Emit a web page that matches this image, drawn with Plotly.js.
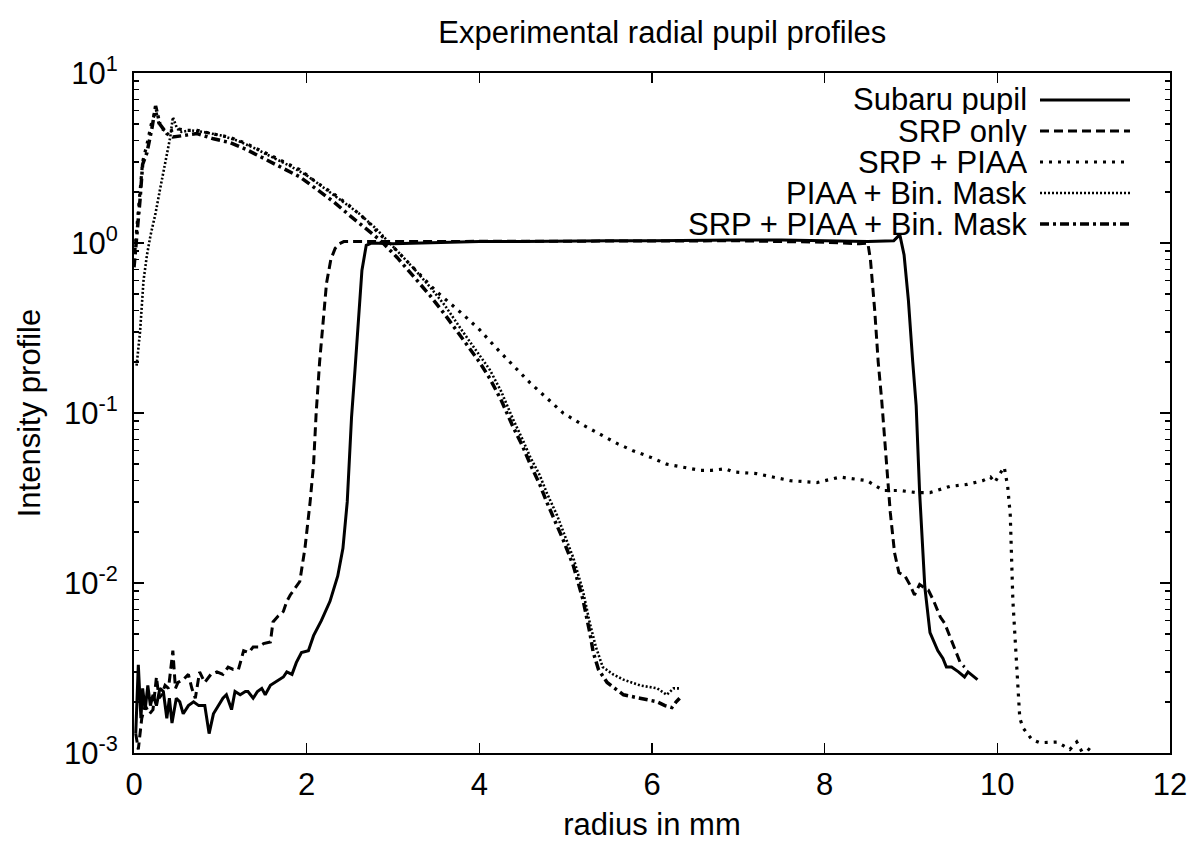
<!DOCTYPE html>
<html>
<head>
<meta charset="utf-8">
<script src="https://cdn.plot.ly/plotly-3.0.1.min.js"></script>
<style>html,body{margin:0;padding:0;background:#fff}#chart{width:1196px;height:846px}</style>
</head>
<body>
<div id="chart"></div>
<script>
// ---- Data ----
const seriesNames = ["Subaru pupil", "SRP only", "SRP + PIAA", "PIAA + Bin. Mask", "SRP + PIAA + Bin. Mask"];

const subaruX = [0.02,0.05,0.08,0.1,0.13,0.16,0.19,0.22,0.26,0.3,0.34,0.38,0.41,0.44,0.49,0.53,0.57,0.63,0.69,0.75,0.82,0.87,0.92,0.98,1.03,1.07,1.13,1.17,1.23,1.29,1.32,1.38,1.43,1.48,1.52,1.58,1.63,1.69,1.73,1.77,1.83,1.88,1.94,2.02,2.08,2.17,2.27,2.36,2.42,2.47,2.52,2.56,2.6,2.64,2.69,2.75,3.0,3.5,4.0,4.5,5.0,5.5,6.0,6.5,7.0,7.5,8.0,8.5,8.8,8.87,8.92,8.97,9.02,9.06,9.1,9.16,9.22,9.27,9.31,9.37,9.41,9.47,9.51,9.55,9.62,9.66,9.77];
const subaruY = [0.0013,0.0033,0.0016,0.0024,0.0018,0.0025,0.0019,0.0022,0.0019,0.0024,0.0023,0.0016,0.0021,0.0015,0.0021,0.0020,0.0017,0.0019,0.0020,0.0019,0.0019,0.0013,0.0017,0.0019,0.0021,0.0022,0.0018,0.0023,0.0022,0.0023,0.0023,0.0021,0.0023,0.0024,0.0022,0.0025,0.0026,0.0027,0.0028,0.0030,0.0029,0.0034,0.0039,0.0040,0.0049,0.006,0.0078,0.011,0.016,0.03,0.095,0.18,0.35,0.69,0.97,1.0,0.99,1.01,1.02,1.02,1.03,1.03,1.03,1.04,1.04,1.04,1.03,1.02,1.03,1.12,0.85,0.46,0.2,0.11,0.034,0.0095,0.0051,0.0044,0.0040,0.0036,0.0032,0.0032,0.0031,0.0030,0.0028,0.0030,0.0027];

const srpX = [0.02,0.05,0.09,0.13,0.18,0.22,0.26,0.29,0.32,0.36,0.4,0.45,0.48,0.51,0.57,0.63,0.67,0.71,0.76,0.82,0.89,0.96,1.03,1.09,1.15,1.21,1.27,1.33,1.38,1.44,1.5,1.58,1.61,1.67,1.73,1.77,1.81,1.86,1.92,1.98,2.04,2.08,2.11,2.15,2.19,2.23,2.28,2.33,2.38,2.43,3.0,4.0,5.0,6.0,7.0,8.0,8.4,8.5,8.53,8.58,8.62,8.66,8.7,8.76,8.81,8.86,8.93,8.99,9.04,9.07,9.1,9.15,9.2,9.26,9.34,9.39,9.47,9.57,9.62];
const srpY = [0.0013,0.00105,0.0016,0.0019,0.0017,0.0018,0.0028,0.0021,0.0022,0.0025,0.0024,0.0040,0.0024,0.0026,0.0027,0.0029,0.0024,0.0021,0.0030,0.0026,0.0029,0.0030,0.0029,0.0032,0.0031,0.0031,0.0040,0.0039,0.0042,0.0042,0.0044,0.0045,0.0059,0.0064,0.0068,0.0078,0.0085,0.0093,0.0102,0.016,0.03,0.05,0.1,0.2,0.36,0.58,0.8,0.93,0.99,1.02,1.02,1.02,1.03,1.03,1.03,1.01,0.99,1.0,0.8,0.4,0.2,0.12,0.066,0.026,0.015,0.0115,0.011,0.0097,0.0085,0.0091,0.0098,0.0094,0.0091,0.0079,0.0063,0.0058,0.0046,0.0034,0.0032];

const srpPiaaX = [0.01,0.05,0.1,0.15,0.2,0.25,0.3,0.38,0.45,0.5,0.6,0.73,0.9,1.1,1.3,1.54,1.75,1.92,2.1,2.31,2.5,2.7,2.85,3.0,3.23,3.5,3.81,4.0,4.2,4.4,4.59,4.8,4.97,5.2,5.4,5.6,5.78,5.98,6.17,6.36,6.56,6.69,6.85,6.94,7.21,7.4,7.6,7.91,8.18,8.49,8.68,8.87,9.07,9.22,9.45,9.65,9.83,9.92,9.97,10.03,10.08,10.12,10.15,10.18,10.22,10.26,10.3,10.4,10.49,10.6,10.69,10.77,10.84,10.92,10.97,11.03,11.11];
const srpPiaaY = [0.9,1.5,3.0,3.8,5.0,6.0,4.8,4.5,4.6,4.7,4.6,4.6,4.4,4.2,3.85,3.35,2.95,2.7,2.3,1.95,1.65,1.35,1.12,0.95,0.72,0.52,0.38,0.31,0.24,0.19,0.15,0.12,0.1,0.085,0.075,0.066,0.06,0.055,0.05,0.048,0.046,0.046,0.047,0.045,0.044,0.042,0.040,0.039,0.042,0.040,0.035,0.035,0.034,0.034,0.037,0.038,0.040,0.042,0.039,0.044,0.048,0.037,0.025,0.0079,0.0032,0.0016,0.0014,0.0012,0.00115,0.00115,0.00116,0.0011,0.00105,0.00116,0.00104,0.00108,0.0010];

const piaaMaskX = [0.03,0.07,0.11,0.15,0.19,0.25,0.3,0.34,0.38,0.42,0.45,0.5,0.55,0.65,0.8,1.0,1.2,1.4,1.6,1.8,2.0,2.2,2.4,2.6,2.8,2.9,3.05,3.25,3.43,3.6,3.81,4.0,4.12,4.25,4.39,4.5,4.59,4.7,4.78,4.9,4.97,5.09,5.2,5.28,5.35,5.43,5.55,5.67,5.86,6.06,6.17,6.25,6.32];
const piaaMaskY = [0.19,0.3,0.6,0.85,1.1,1.5,2.05,2.6,3.4,4.2,5.5,4.7,4.5,4.6,4.5,4.3,4.0,3.6,3.2,2.85,2.5,2.1,1.78,1.5,1.22,1.08,0.9,0.7,0.55,0.43,0.3,0.22,0.18,0.135,0.092,0.07,0.055,0.043,0.034,0.025,0.02,0.014,0.009,0.0058,0.0042,0.0032,0.0029,0.0027,0.0025,0.0024,0.0022,0.0024,0.0024];

const srpPiaaMaskX = [0.0,0.03,0.07,0.1,0.15,0.21,0.25,0.3,0.38,0.45,0.6,0.73,0.92,1.11,1.3,1.5,1.7,1.92,2.1,2.31,2.5,2.7,2.85,3.05,3.25,3.43,3.6,3.81,4.0,4.12,4.25,4.39,4.5,4.59,4.7,4.78,4.9,4.97,5.09,5.2,5.28,5.32,5.38,5.48,5.57,5.67,5.86,6.06,6.15,6.23,6.28,6.32];
const srpPiaaMaskY = [0.72,1.05,1.8,2.9,3.4,4.8,6.4,5.0,4.4,4.2,4.3,4.4,4.1,3.9,3.55,3.15,2.8,2.45,2.1,1.75,1.45,1.2,1.04,0.82,0.63,0.49,0.38,0.27,0.2,0.16,0.12,0.083,0.064,0.05,0.038,0.03,0.022,0.018,0.0126,0.008,0.0051,0.0039,0.0031,0.0026,0.0024,0.0022,0.0021,0.0020,0.0019,0.00185,0.0020,0.0021];

const yTickVals = [0.001, 0.01, 0.1, 1, 10];
const yTickText = ["10<sup>-3</sup>", "10<sup>-2</sup>", "10<sup>-1</sup>", "10<sup>0</sup>", "10<sup>1</sup>"];
const xTickVals = [0, 2, 4, 6, 8, 10, 12];

// ---- Styles ----
const styles = [
  {width: 3, dash: "solid"},
  {width: 3, dash: "9px,5px"},
  {width: 3.2, dash: "3px,6px"},
  {width: 2.6, dash: "2px,2px"},
  {width: 3.5, dash: "9px,4px,3px,4px"}
];
const xs = [subaruX, srpX, srpPiaaX, piaaMaskX, srpPiaaMaskX];
const ys = [subaruY, srpY, srpPiaaY, piaaMaskY, srpPiaaMaskY];

const traces = seriesNames.map((n, i) => ({
  x: xs[i], y: ys[i], name: n, type: "scatter", mode: "lines",
  line: {color: "#000", width: styles[i].width, dash: styles[i].dash},
  showlegend: false, hoverinfo: "skip"
}));

const minorVals = [];
for (let e = -3; e < 1; e++) for (let m = 2; m <= 9; m++) minorVals.push(m * Math.pow(10, e));

const FONT = "Liberation Sans, Arial, Helvetica, sans-serif";
const FS = 31;

// manual gnuplot-style legend (text right, sample line to the right)
const legendRowsPx = [100, 131, 162, 193, 224];
const plotTop = 73, plotH = 680, plotL = 134, plotW = 1036;
const toPy = p => (plotTop + plotH - p) / plotH;
const toPx = p => (p - plotL) / plotW;
const annotations = [], shapes = [];
seriesNames.forEach((n, i) => {
  const yy = toPy(legendRowsPx[i]);
  annotations.push({text: n, xref: "paper", yref: "paper", x: toPx(1028), y: yy,
    xanchor: "right", yanchor: "middle", align: "right", valign: "middle", height: 29, borderpad: 0,
    showarrow: false, font: {family: FONT, size: FS, color: "#000"}});
  shapes.push({type: "line", xref: "paper", yref: "paper", x0: toPx(1040), x1: toPx(1130), y0: yy, y1: yy,
    line: {color: "#000", width: styles[i].width, dash: styles[i].dash}});
});

const layout = {
  width: 1196, height: 846,
  margin: {l: 134, r: 26, t: 73, b: 93, pad: 0},
  paper_bgcolor: "#fff", plot_bgcolor: "#fff",
  font: {family: FONT, size: FS, color: "#000"},
  title: {text: "Experimental radial pupil profiles", font: {family: FONT, size: FS, color: "#000"},
    x: 0.51, xref: "paper", y: 1 - 32 / 846, yref: "container", yanchor: "middle"},
  xaxis: {
    range: [0, 12], tickvals: xTickVals, ticks: "inside", ticklen: 10, tickwidth: 1.5, tickcolor: "#000",
    showline: true, linewidth: 2, linecolor: "#000", mirror: "ticks", showgrid: false, zeroline: false,
    title: {text: "radius in mm", font: {family: FONT, size: FS}, standoff: 12},
    tickfont: {family: FONT, size: FS}, ticklabelstandoff: 3
  },
  yaxis: {
    type: "log", range: [-3, 1], tickvals: yTickVals, ticktext: yTickText,
    ticks: "inside", ticklen: 10, tickwidth: 1.5, tickcolor: "#000",
    minor: {tickvals: minorVals, ticks: "inside", ticklen: 5, tickwidth: 1.5, tickcolor: "#000", showgrid: false},
    showline: true, linewidth: 2, linecolor: "#000", mirror: "ticks", showgrid: false, zeroline: false,
    title: {text: "Intensity profile", font: {family: FONT, size: FS}, standoff: 14},
    tickfont: {family: FONT, size: FS}, ticklabelstandoff: 8
  },
  annotations: annotations,
  shapes: shapes
};

Plotly.newPlot("chart", traces, layout, {staticPlot: true, displayModeBar: false});
</script>
</body>
</html>
